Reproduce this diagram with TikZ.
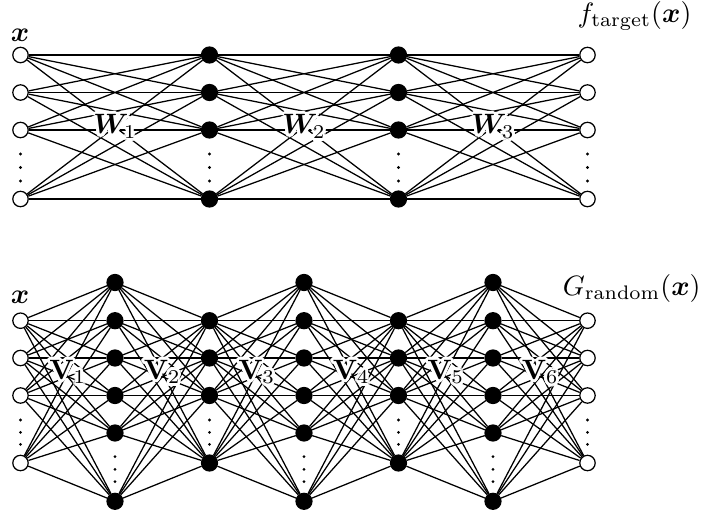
\documentclass[tikz,border=0pt]{standalone}
\usepackage{amsmath,bm}
\usepackage[copies]{contour}
\contourlength{1.1pt}
\begin{document}
\begin{tikzpicture}[x=0.357pt,y=-0.357pt,line width=0.45pt,
  ionode/.style={circle,draw,fill=white,inner sep=0pt,minimum size=5.5pt},
  hidnode/.style={circle,draw,fill=black,inner sep=0pt,minimum size=5.7pt},
  wlab/.style={inner sep=0pt},
  txt/.style={inner sep=0pt}]
\useasboundingbox (0,0) rectangle (704,512);
% ---------- top network ----------
\foreach \r/\y in {1/55,2/92.5,3/130,4/199}{
  \node[ionode]  (t0\r) at (20.5,\y) {};
  \node[hidnode] (t1\r) at (209.5,\y) {};
  \node[hidnode] (t2\r) at (398.5,\y) {};
  \node[ionode]  (t3\r) at (587.5,\y) {};
}
\foreach \a/\b in {0/1,1/2,2/3}
  \foreach \i in {1,...,4}
    \foreach \j in {1,...,4}
      \draw (t\a\i) -- (t\b\j);
\foreach \x in {20.5,209.5,398.5,587.5}
  \foreach \y in {154,167.5,181}
    \fill (\x,\y) circle (0.55pt);
\node[txt] (xin1) at (20,35) {$\bm{x}$};
\node[txt] (fout) at (634.5,16) {$f_{\text{target}}(\bm{x})$};
\node[wlab] (W1) at (115,128) {\contour{white}{$\bm{W}_1$}};
\node[wlab] (W2) at (304,128) {\contour{white}{$\bm{W}_2$}};
\node[wlab] (W3) at (493,128) {\contour{white}{$\bm{W}_3$}};
% ---------- bottom network ----------
\foreach \r/\y in {1/320.7,2/358,3/395.5,4/463}{
  \node[ionode]  (b0-\r) at (20.5,\y) {};
  \node[hidnode] (b2-\r) at (209.5,\y) {};
  \node[hidnode] (b4-\r) at (398.5,\y) {};
  \node[ionode]  (b6-\r) at (587.5,\y) {};
}
\foreach \r/\y in {1/282.5,2/320.7,3/358,4/395.5,5/433,6/501.3}{
  \node[hidnode] (b1-\r) at (115,\y) {};
  \node[hidnode] (b3-\r) at (304,\y) {};
  \node[hidnode] (b5-\r) at (493,\y) {};
}
\foreach \a/\b in {0/1,2/3,4/5}
  \foreach \i in {1,...,4}
    \foreach \j in {1,...,6}
      \draw (b\a-\i) -- (b\b-\j);
\foreach \a/\b in {1/2,3/4,5/6}
  \foreach \i in {1,...,6}
    \foreach \j in {1,...,4}
      \draw (b\a-\i) -- (b\b-\j);
\foreach \x in {20.5,209.5,398.5,587.5}
  \foreach \y in {420,432.3,444.3}
    \fill (\x,\y) circle (0.55pt);
\foreach \x in {115,304,493}
  \foreach \y in {456.7,469.3,481.7}
    \fill (\x,\y) circle (0.55pt);
\node[txt] (xin2) at (20,297) {$\bm{x}$};
\node[txt] (gout) at (631.7,288) {$G_{\text{random}}(\bm{x})$};
\node[wlab] (V1) at (67.75,373.5) {\contour{white}{$\mathbf{V}_1$}};
\node[wlab] (V2) at (162.25,373.5) {\contour{white}{$\mathbf{V}_2$}};
\node[wlab] (V3) at (256.75,373.5) {\contour{white}{$\mathbf{V}_3$}};
\node[wlab] (V4) at (351.25,373.5) {\contour{white}{$\mathbf{V}_4$}};
\node[wlab] (V5) at (445.75,373.5) {\contour{white}{$\mathbf{V}_5$}};
\node[wlab] (V6) at (540.25,373.5) {\contour{white}{$\mathbf{V}_6$}};
\end{tikzpicture}
\end{document}
